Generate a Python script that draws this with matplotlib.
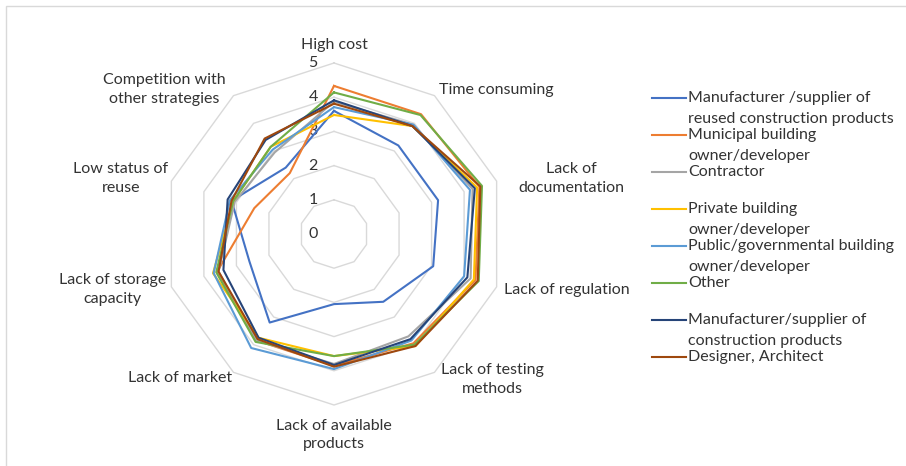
import numpy as np
import matplotlib
matplotlib.use("Agg")
import matplotlib.pyplot as plt
from matplotlib.lines import Line2D
from matplotlib.patches import Rectangle

plt.rcParams['font.family'] = ['Lato', 'DejaVu Sans']

categories = ["High cost", "Time consuming", "Lack of\ndocumentation", "Lack of regulation",
              "Lack of testing\nmethods", "Lack of available\nproducts", "Lack of market",
              "Lack of storage\ncapacity", "Low status of\nreuse", "Competition with\nother strategies"]

manuf_reused = [3.6, 3.2, 3.2, 3.05, 2.45, 2.05, 3.2, 2.6, 3.15, 2.4]
municipal = [4.33, 4.33, 4.47, 4.35, 3.95, 3.85, 3.85, 3.6, 2.45, 2.2]
contractor = [3.87, 3.95, 4.26, 4.2, 3.7, 3.8, 3.85, 3.55, 3.05, 2.95]
private_owner = [3.48, 3.9, 4.4, 4.3, 4.05, 3.57, 3.75, 3.72, 3.1, 3.15]
public_owner = [3.71, 3.95, 4.18, 4.0, 3.85, 3.95, 4.12, 3.7, 3.2, 3.05]
other = [4.14, 4.3, 4.55, 4.45, 4.0, 3.57, 3.9, 3.62, 3.1, 3.15]
manuf_products = [3.91, 3.9, 4.33, 4.1, 3.8, 3.83, 3.75, 3.4, 3.27, 3.4]
designer = [3.81, 3.9, 4.5, 4.42, 4.05, 3.88, 3.8, 3.55, 3.15, 3.45]

series_names = ["Manufacturer /supplier of\nreused construction products",
                "Municipal building\nowner/developer",
                "Contractor",
                "Private building\nowner/developer",
                "Public/governmental building\nowner/developer",
                "Other",
                "Manufacturer/supplier of\nconstruction products",
                "Designer, Architect"]
series_values = [manuf_reused, municipal, contractor, private_owner,
                 public_owner, other, manuf_products, designer]
colors = ["#4472C4", "#ED7D31", "#A5A5A5", "#FFC000",
          "#5B9BD5", "#70AD47", "#264478", "#9E480E"]

TEXT = "#333333"
W, H = 906, 466
fig = plt.figure(figsize=(W / 100, H / 100), dpi=100)

def fx(x):
    return x / W

def fy(y):
    return 1 - y / H

# chart frame
fig.add_artist(Rectangle((fx(6), fy(470)), fx(910) - fx(6), fy(6) - fy(470),
                         transform=fig.transFigure, fill=False,
                         edgecolor="#D9D9D9", lw=1.0))

cx, cy, R = 334, 234, 171
ax = fig.add_axes([fx(cx - R), fy(cy + R), 2 * R / W, 2 * R / H], projection="polar")
ax.set_theta_zero_location("N")
ax.set_theta_direction(-1)
ax.set_ylim(0, 5)
ax.grid(False)
ax.spines["polar"].set_visible(False)
ax.set_xticks([])
ax.set_yticks([])
ax.patch.set_alpha(0)

n = len(categories)
angles = np.arange(n) * 2 * np.pi / n
closed = np.append(angles, angles[0])

# decagon gridlines
for lev in range(1, 6):
    ax.plot(closed, [lev] * (n + 1), color="#D9D9D9", lw=1.0, clip_on=False, zorder=1)

# radial value labels
for lev in range(0, 6):
    ax.annotate(str(lev), xy=(0, lev), xytext=(-21, 0), textcoords="offset pixels",
                ha="center", va="center", fontsize=11.5, color=TEXT)

for vals, c in zip(series_values, colors):
    ax.plot(closed, vals + vals[:1], color=c, lw=1.5, clip_on=False, zorder=3)

# category labels placed off the outer ring vertices
label_offsets = [(0, 18, "center"), (4, 6, "left"), (22, 3, "left"), (7, -3, "left"),
                 (6, -7, "left"), (0, -30, "center"), (-1, -6, "right"),
                 (-5, -3, "right"), (-3, 3, "right"), (-8, 6, "right")]
for ang, lab, (dx, dy, ha) in zip(angles, categories, label_offsets):
    ax.annotate(lab, xy=(ang, 5), xytext=(dx, dy), textcoords="offset pixels",
                ha=ha, va="center", multialignment="center",
                fontsize=11.5, color=TEXT, linespacing=1.45, annotation_clip=False)

# legend
for i, (name, c) in enumerate(zip(series_names, colors)):
    y = 98 + 37 * i
    fig.add_artist(Line2D([fx(652), fx(686)], [fy(y), fy(y)], color=c, lw=1.5,
                          transform=fig.transFigure))
    for k, line in enumerate(name.split("\n")):
        fig.text(fx(688), fy(y + 21 * k), line, ha="left", va="center",
                 fontsize=11.5, color=TEXT)

fig.savefig("out.png", dpi=100)
